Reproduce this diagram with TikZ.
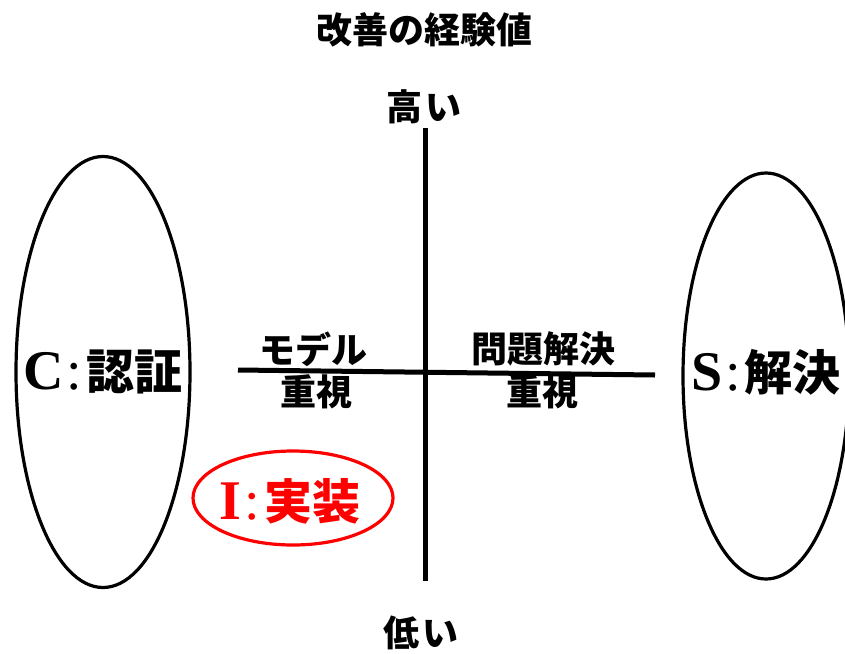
\documentclass[tikz,border=0pt]{standalone}
\usepackage{fontspec}
\setmainfont{Liberation Serif}
\newfontfamily\jp{Noto Sans CJK JP}
\usetikzlibrary{shapes.geometric}
\begin{document}
\begin{tikzpicture}[x=1pt,y=-1pt,
  jptext/.style={font=\jp\bfseries\fontsize{36}{40}\selectfont, inner sep=0pt},
  biglabel/.style={inner sep=0pt},
  oval/.style={draw, ellipse, line width=3.2pt, inner sep=0pt},
  axisline/.style={line width=5pt}]
\useasboundingbox[fill=white] (0,0) rectangle (845,653);
% title and axis labels
\node[jptext] (title) at (424,30) {改善の経験値};
\node[jptext] (high) at (424,107) {高\hspace{3pt}い};
\node[jptext] (low) at (421,633) {低\hspace{3pt}い};
% axes
\coordinate (vtop) at (425,128);
\coordinate (vbot) at (425,581);
\coordinate (hleft) at (238,370);
\coordinate (hright) at (655,375);
\draw[axisline] (vtop) -- (vbot);
\draw[axisline] (hleft) -- (hright);
% quadrant labels
\node[jptext] (model) at (313,349) {モデル};
\node[jptext] (model2) at (316,392) {重視};
\node[jptext] (prob) at (543,349) {問題解決};
\node[jptext] (prob2) at (542,392) {重視};
% ellipses
\node[oval, minimum width=174pt, minimum height=431pt] (Cov) at (103,372) {};
\node[oval, minimum width=166pt, minimum height=406pt] (Sov) at (766,376) {};
\node[oval, draw=red, minimum width=200pt, minimum height=94pt] (Iov) at (293,498) {};
% labels in ellipses
\node[biglabel] (Ct) at (Cov.center) {\fontsize{56}{56}\selectfont\bfseries C\hspace{3pt}{\mdseries:}\hspace{4pt}\jp\fontsize{48}{48}\selectfont 認証};
\node[biglabel] (St) at ([yshift=4pt]Sov.center) {\fontsize{56}{56}\selectfont\bfseries S\hspace{3pt}{\mdseries:}\hspace{4pt}\jp\fontsize{48}{48}\selectfont 解決};
\node[biglabel, text=red] (It) at ([xshift=-3pt,yshift=-3pt]Iov.center) {\fontsize{56}{56}\selectfont\bfseries I\hspace{3pt}{\mdseries:}\hspace{4pt}\jp\fontsize{48}{48}\selectfont 実装};
\end{tikzpicture}
\end{document}
